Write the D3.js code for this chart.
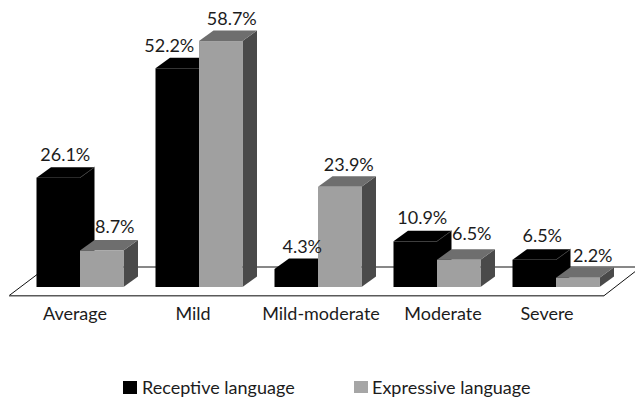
<!DOCTYPE html>
<html>
<head>
<meta charset="utf-8">
<style>
html,body{margin:0;padding:0;background:#fff;}
svg{display:block;}
text{font-family:Lato,"Open Sans",sans-serif;fill:#1c1c1c;}
</style>
<script src="https://cdn.jsdelivr.net/npm/d3@7"></script>
</head>
<body>
<svg id="chart" width="635" height="401"></svg>
<script>
// Severity bands and the share of children in each, per language domain
const categories = ["Average", "Mild", "Mild-moderate", "Moderate", "Severe"];
const seriesNames = ["Receptive language", "Expressive language"];
const receptive = [26.1, 52.2, 4.3, 10.9, 6.5];
const expressive = [8.7, 58.7, 23.9, 6.5, 2.2];

const svg = d3.select("#chart");

const x0 = d3.scaleBand().domain(categories).range([36.5, 599.5]).paddingInner(32 / 119).paddingOuter(0);
const x1 = d3.scaleBand().domain(seriesNames).range([0, x0.bandwidth()]);
const y = d3.scaleLinear().domain([0, 60]).range([287, 35.6]);

// Oblique extrusion of the pseudo-3D columns
const depthX = 14.5, depthY = -10.5;

const faces = {
  "Receptive language": { front: "#000", top: "#000", side: "#000", edge: "#3c3c3c" },
  "Expressive language": { front: "#a0a0a0", top: "#6e6e6e", side: "#4a4a4a", edge: null }
};

// Floor plane: back edge first, bars sit on top of it
const floor = svg.append("g").attr("fill", "none");
floor.append("path").attr("d", "M47,267H635").attr("stroke", "#111").attr("stroke-width", 1);
floor.append("path").attr("d", "M9,295.7L47,267").attr("stroke", "#111").attr("stroke-width", 1);
floor.append("path").attr("d", "M604,295.7L641,267").attr("stroke", "#111").attr("stroke-width", 1);
floor.append("path").attr("d", "M9,295.7H604").attr("stroke", "#5a5a5a").attr("stroke-width", 1.6);

const pts = a => a.map(p => p.join(",")).join(" ");

function drawBar(g, cat, name, value) {
  const l = x0(cat) + x1(name), r = l + x1.bandwidth();
  const t = y(value), b = y(0);
  const f = faces[name];
  g.append("polygon").attr("fill", f.side)
    .attr("points", pts([[r, t], [r + depthX, t + depthY], [r + depthX, b + depthY], [r, b]]));
  g.append("polygon").attr("fill", f.top)
    .attr("points", pts([[l, t], [l + depthX, t + depthY], [r + depthX, t + depthY], [r, t]]));
  g.append("rect").attr("fill", f.front)
    .attr("x", l).attr("y", t).attr("width", r - l).attr("height", b - t);
  if (f.edge) {
    g.append("line").attr("stroke", f.edge).attr("stroke-width", 0.8)
      .attr("x1", r).attr("y1", t).attr("x2", r + depthX).attr("y2", t + depthY);
  }
}

const bars = svg.append("g");
categories.forEach((cat, i) => {
  const g = bars.append("g");
  drawBar(g, cat, seriesNames[0], receptive[i]);
  drawBar(g, cat, seriesNames[1], expressive[i]);
});

// Hand-placed label shifts, so each value clears the neighbouring column
const receptiveShift = [[7, 0], [-8, 0], [6, 1], [7, -1], [8, -1.5]];
const expressiveShift = [[13, -1], [11, 0], [9, 1], [13, -3], [15, 1]];

function valueLabel(cat, name, value, shift) {
  svg.append("text")
    .attr("x", x0(cat) + x1(name) + x1.bandwidth() / 2 + shift[0])
    .attr("y", y(value) + depthY - 6 + shift[1])
    .attr("text-anchor", "middle")
    .attr("font-size", 18)
    .text(value.toFixed(1) + "%");
}
categories.forEach((cat, i) => {
  valueLabel(cat, seriesNames[0], receptive[i], receptiveShift[i]);
  valueLabel(cat, seriesNames[1], expressive[i], expressiveShift[i]);
});

// Category names under the floor
const categoryShift = [-5, -6, 3, 6, -9];
svg.append("g").selectAll("text").data(categories).join("text")
  .attr("x", (d, i) => x0(d) + x0.bandwidth() / 2 + categoryShift[i])
  .attr("y", 320)
  .attr("text-anchor", "middle")
  .attr("font-size", 18)
  .text(d => d);

// Legend
const legendX = [123, 354];
const legendColor = ["#000", "#a6a6a6"];
const legend = svg.append("g").selectAll("g").data(seriesNames).join("g");
legend.append("rect")
  .attr("x", (d, i) => legendX[i]).attr("y", 381)
  .attr("width", 14).attr("height", (d, i) => i ? 12 : 13)
  .attr("fill", (d, i) => legendColor[i]);
legend.append("text")
  .attr("x", (d, i) => legendX[i] + (i ? 18 : 19)).attr("y", 394)
  .attr("font-size", 18)
  .text(d => d);
</script>
</body>
</html>
